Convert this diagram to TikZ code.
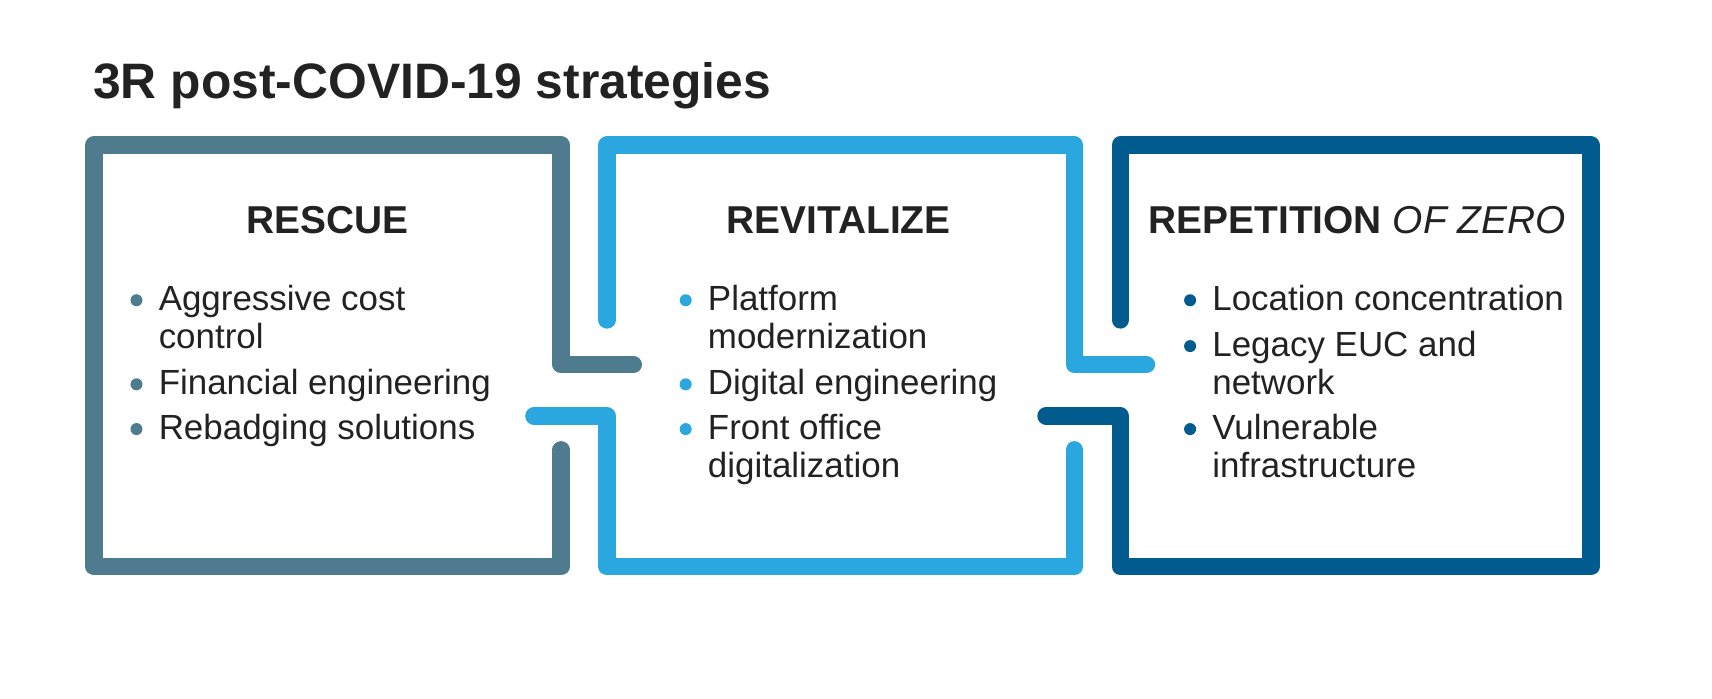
\documentclass[tikz,border=0pt]{standalone}
\usepackage{fontspec}
\setmainfont{Liberation Sans}
\usetikzlibrary{positioning}
\definecolor{rescuecol}{HTML}{4E7B8E}
\definecolor{revitcol}{HTML}{2AA7DF}
\definecolor{repcol}{HTML}{005B8E}
\definecolor{inkcol}{HTML}{222222}
\tikzset{
  frame/.style={line width=8pt,line cap=round,line join=round},
  heading/.style={font=\fontsize{17.8}{20}\selectfont\bfseries,anchor=base,inner sep=0pt,text=inkcol},
  item/.style={font=\fontsize{16}{17.5}\selectfont,anchor=north west,inner sep=0pt,align=left,text=inkcol},
  dot/.style={circle,fill=#1,inner sep=0pt,minimum size=5.5pt}
}
\begin{document}
\begin{tikzpicture}[x=0.5pt,y=-0.5pt]
\useasboundingbox (0,0) rectangle (1568,640);
\node[font=\fontsize{22.8}{26}\selectfont\bfseries,anchor=base west,inner sep=0pt,text=inkcol] (title) at (85,90) {3R post-COVID-19 strategies};

% frames
\draw[frame,rescuecol] (514,412) -- (514,519) -- (86,519) -- (86,133) -- (514,133) -- (514,334) -- (580,334);
\draw[frame,revitcol] (556,293) -- (556,133) -- (984,133) -- (984,334) -- (1050,334);
\draw[frame,revitcol] (489,381) -- (556,381) -- (556,519) -- (984,519) -- (984,412);
\draw[frame,repcol] (1026,293) -- (1026,133) -- (1457,133) -- (1457,519) -- (1026,519) -- (1026,381) -- (958,381);

% headings
\node[heading] (rescue) at (300,214) {RESCUE};
\node[heading] (revit) at (768,214) {REVITALIZE};
\node[heading] (rep) at (1243,214) {REPETITION \textit{\mdseries OF ZERO}};

% rescue items
\node[dot=rescuecol] (d11) at (125,275) {};
\node[item] (i11) at (145,261) {Aggressive cost\\control};
\node[dot=rescuecol] (d12) at (125,352) {};
\node[item] (i12) at (145,338) {Financial engineering};
\node[dot=rescuecol] (d13) at (125,393) {};
\node[item] (i13) at (145,379) {Rebadging solutions};

% revitalize items
\node[dot=revitcol] (d21) at (628,275) {};
\node[item] (i21) at (648,261) {Platform\\modernization};
\node[dot=revitcol] (d22) at (628,352) {};
\node[item] (i22) at (648,338) {Digital engineering};
\node[dot=revitcol] (d23) at (628,393) {};
\node[item] (i23) at (648,379) {Front office\\digitalization};

% repetition items
\node[dot=repcol] (d31) at (1090,275) {};
\node[item] (i31) at (1110,261) {Location concentration};
\node[dot=repcol] (d32) at (1090,317) {};
\node[item] (i32) at (1110,303) {Legacy EUC and\\network};
\node[dot=repcol] (d33) at (1090,393) {};
\node[item] (i33) at (1110,379) {Vulnerable\\infrastructure};
\end{tikzpicture}
\end{document}
